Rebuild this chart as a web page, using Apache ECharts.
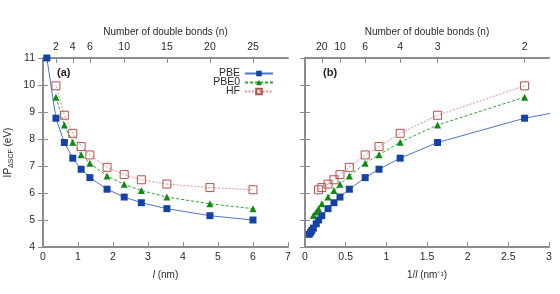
<!DOCTYPE html>
<html>
<head>
<meta charset="utf-8">
<script src="https://cdn.jsdelivr.net/npm/echarts@6/dist/echarts.min.js"></script>
<style>html,body{margin:0;padding:0;background:#fff}#c{width:560px;height:294px}</style>
</head>
<body>
<div id="c"></div>
<script>
// Number of double bonds
const nBonds = [1, 2, 3, 4, 5, 6, 8, 10, 12, 15, 20, 25, 30, 40, 50, 60, 80];
// chain length l (nm), panel (a) (only n <= 25 shown)
const lengthNm = [0.11, 0.37, 0.61, 0.85, 1.09, 1.34, 1.83, 2.32, 2.81, 3.54, 4.77, 6.00, 7.22, 9.67, 12.1, 14.6, 19.4];
// inverse length 1/l (nm^-1), panel (b)
const invLength = [6.7, 2.70, 1.63, 1.17, 0.91, 0.74, 0.545, 0.43, 0.356, 0.283, 0.207, 0.167, 0.138, 0.103, 0.083, 0.069, 0.052];
// IP_ΔSCF (eV)
const ipPBE  = [11.0, 8.77, 7.87, 7.29, 6.88, 6.57, 6.14, 5.85, 5.64, 5.42, 5.16, 5.00, 4.86, 4.70, 4.61, 4.54, 4.47];
const ipPBE0 = [null, 9.55, 8.52, 7.88, 7.42, 7.10, 6.63, 6.32, 6.09, 5.85, 5.60, 5.42, 5.30, 5.17, null, null, null];
const ipHF   = [null, 9.97, 8.88, 8.21, 7.72, 7.41, 6.95, 6.68, 6.49, 6.33, 6.20, 6.12, null, null, null, null, null];
// top-axis tick labels
const topTicksA = [2, 4, 6, 10, 15, 20, 25];
const topTicksB = [20, 10, 6, 4, 3, 2];
const maxNPanelA = 25;

const FONT = 'Liberation Sans';
const FS = 10.5;
const FN = 10;
const AXC = '#8c8c8c';
const TXT = '#2a2a2a';

function pairs(xs, ys, keep) {
  const out = [];
  for (let i = 0; i < nBonds.length; i++) {
    if (ys[i] == null || !keep(nBonds[i])) continue;
    out.push([xs[i], ys[i]]);
  }
  return out;
}
const posA = topTicksA.map(n => lengthNm[nBonds.indexOf(n)]);
const posB = topTicksB.map(n => invLength[nBonds.indexOf(n)]);
function fmt(pos, labels) {
  return v => { const i = pos.findIndex(p => Math.abs(p - v) < 1e-6); return i >= 0 ? String(labels[i]) : ''; };
}

const styles = {
  PBE:  { symbol: 'rect', symbolSize: 7, itemStyle: { color: '#1643a3' }, lineStyle: { color: '#4f74c4', width: 1, type: 'solid' } },
  PBE0: { symbol: 'triangle', symbolSize: 7, itemStyle: { color: '#108a10' }, lineStyle: { color: '#2fa52f', width: 1, type: [3, 2] } },
  HF:   { symbol: 'rect', symbolSize: 8, itemStyle: { color: 'rgba(255,255,255,0)', borderColor: '#b3504b', borderWidth: 1 }, lineStyle: { color: '#d99595', width: 1, type: [2, 1.5] } }
};
const seriesDefs = [['PBE', ipPBE], ['PBE0', ipPBE0], ['HF', ipHF]];
const series = [];
seriesDefs.forEach(([name, ys]) => {
  series.push(Object.assign({ name, type: 'line', xAxisIndex: 0, yAxisIndex: 0, clip: true, z: 3,
    data: pairs(lengthNm, ys, n => n <= maxNPanelA) }, JSON.parse(JSON.stringify(styles[name]))));
  series.push(Object.assign({ name, type: 'line', xAxisIndex: 2, yAxisIndex: 2, clip: true, z: 3,
    data: pairs(invLength, ys, () => true) }, JSON.parse(JSON.stringify(styles[name]))));
});

const axLine = { show: true, lineStyle: { color: AXC, width: 2 } };
const tick = { show: true, inside: true, length: 5, lineStyle: { color: AXC, width: 1 } };
const lab = { color: TXT, fontFamily: FONT, fontSize: FS };
const nameStyle = { color: TXT, fontFamily: FONT, fontSize: FN };
const italic = { i: { fontStyle: 'italic', fontSize: FN, color: TXT, fontFamily: FONT } };

const chart = echarts.init(document.getElementById('c'), null, { renderer: 'canvas' });
chart.setOption({
  animation: false,
  backgroundColor: '#fff',
  textStyle: { fontFamily: FONT },
  grid: [
    { left: 43, right: 272, top: 58, bottom: 47 },
    { left: 305, right: 11, top: 58, bottom: 47 }
  ],
  xAxis: [
    { gridIndex: 0, type: 'value', position: 'bottom', min: 0, max: 7, interval: 1,
      axisLine: axLine, axisTick: tick, splitLine: { show: false },
      axisLabel: Object.assign({ margin: 5 }, lab),
      name: '{i|l} (nm)', nameLocation: 'middle', nameGap: 23,
      nameTextStyle: Object.assign({ rich: italic }, nameStyle) },
    { gridIndex: 0, type: 'value', position: 'top', min: 0, max: 7,
      axisLine: axLine, splitLine: { show: false },
      axisTick: Object.assign({ customValues: posA }, tick),
      axisLabel: Object.assign({ margin: 5, customValues: posA, formatter: fmt(posA, topTicksA) }, lab),
      name: 'Number of double bonds (n)', nameLocation: 'middle', nameGap: 18, nameTextStyle: nameStyle },
    { gridIndex: 1, type: 'value', position: 'bottom', min: 0, max: 3, interval: 0.5,
      axisLine: axLine, axisTick: tick, splitLine: { show: false },
      axisLabel: Object.assign({ margin: 5 }, lab),
      name: '1/{i|l} (nm⁻¹)', nameLocation: 'middle', nameGap: 23,
      nameTextStyle: Object.assign({ rich: italic }, nameStyle) },
    { gridIndex: 1, type: 'value', position: 'top', min: 0, max: 3,
      axisLine: axLine, splitLine: { show: false },
      axisTick: Object.assign({ customValues: posB }, tick),
      axisLabel: Object.assign({ margin: 5, customValues: posB, formatter: fmt(posB, topTicksB) }, lab),
      name: 'Number of double bonds (n)', nameLocation: 'middle', nameGap: 18, nameTextStyle: nameStyle }
  ],
  yAxis: [
    { gridIndex: 0, type: 'value', position: 'left', min: 4, max: 11, interval: 1,
      axisLine: axLine, axisTick: tick, splitLine: { show: false },
      axisLabel: Object.assign({ margin: 8 }, lab),
      name: '{a|IP}{s|ΔSCF}{a| (eV)}', nameLocation: 'middle', nameGap: 28, nameRotate: 90,
      nameTextStyle: Object.assign({ rich: {
        a: { fontSize: FN, color: TXT, fontFamily: FONT },
        s: { fontSize: 7, color: TXT, fontFamily: FONT, padding: [6, 0, 0, 0] } } }, nameStyle) },
    { gridIndex: 0, type: 'value', position: 'right', min: 4, max: 11, interval: 1,
      axisLine: axLine, axisTick: tick, splitLine: { show: false }, axisLabel: { show: false } },
    { gridIndex: 1, type: 'value', position: 'left', min: 4, max: 11, interval: 1,
      axisLine: axLine, axisTick: tick, splitLine: { show: false }, axisLabel: { show: false } },
    { gridIndex: 1, type: 'value', position: 'right', min: 4, max: 11, interval: 1,
      axisLine: axLine, axisTick: tick, splitLine: { show: false }, axisLabel: { show: false } }
  ],
  legend: {
    orient: 'vertical', right: 281, top: 63, align: 'right',
    itemWidth: 28, itemHeight: 7, itemGap: -2,
    data: ['PBE', 'PBE0', 'HF'],
    textStyle: { color: TXT, fontFamily: FONT, fontSize: FS, lineHeight: 10, padding: [0, 0, 0, 0] }
  },
  graphic: [
    { type: 'text', left: 57, top: 67, style: { text: '(a)', font: 'bold 11px "Liberation Sans"', fill: '#222' } },
    { type: 'text', left: 323, top: 67, style: { text: '(b)', font: 'bold 11px "Liberation Sans"', fill: '#222' } }
  ],
  series
});
</script>
</body>
</html>
